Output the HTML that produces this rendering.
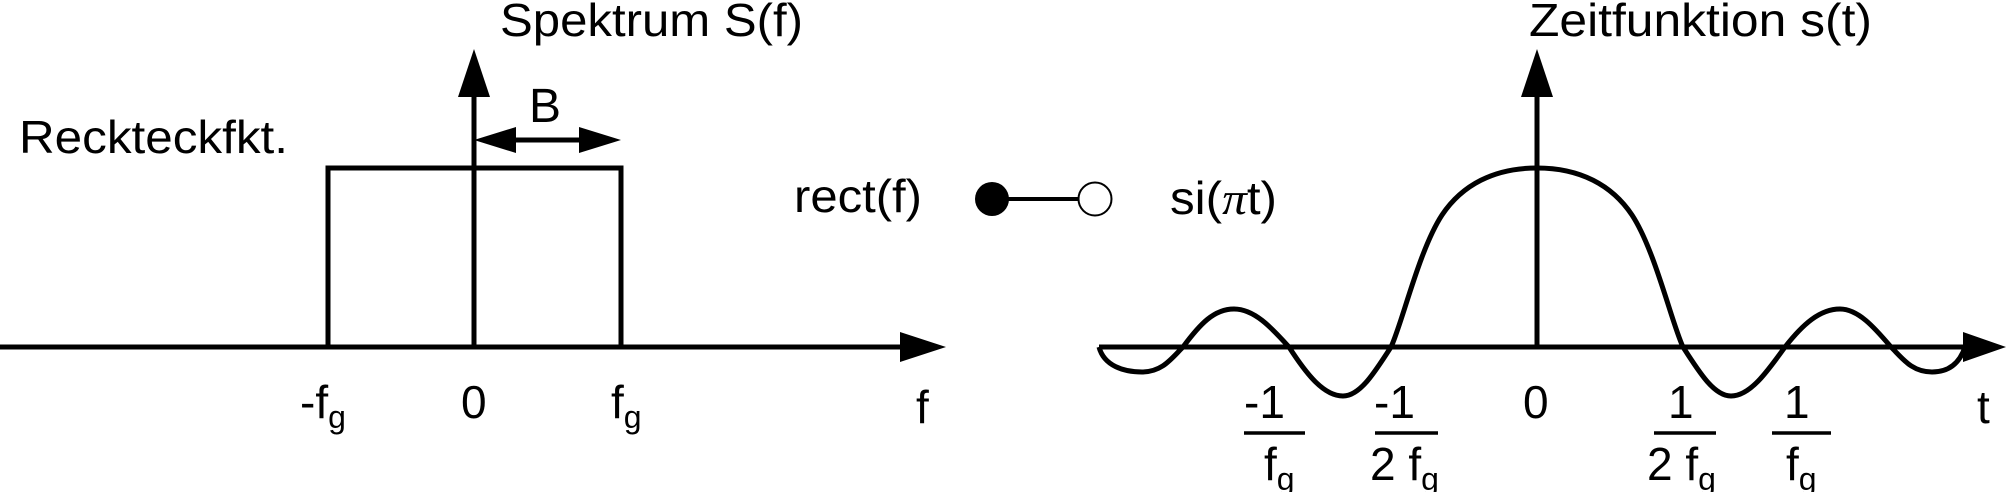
<!DOCTYPE html>
<html><head><meta charset="utf-8"><style>
html,body{margin:0;padding:0;background:#fff;}
svg{display:block;}
text{font-family:"Liberation Sans",sans-serif;fill:#000;}
</style></head><body>
<svg width="2008" height="492" viewBox="0 0 2008 492" xmlns="http://www.w3.org/2000/svg">
<g stroke="#000" stroke-width="5" fill="none">
  <line x1="0" y1="347" x2="905" y2="347"/>
  <line x1="474" y1="347" x2="474" y2="92"/>
  <polyline points="328,347 328,168 621,168 621,347"/>
  <line x1="500" y1="140" x2="595" y2="140"/>
  <line x1="992" y1="199" x2="1078" y2="199" stroke-width="4"/>
  <line x1="1099" y1="347" x2="1970" y2="347"/>
  <line x1="1537" y1="347" x2="1537" y2="92"/>
  <path stroke-width="5" d="M1099 347 C1104 366 1124 372 1142 372 C1162 372 1171 359 1183 347 C1200 324 1214 309 1234 309 C1254 309 1271 327 1289 347 C1307 375 1324 396 1343 396 C1360 396 1375 372 1391 347 C1402 324 1419 250 1442 215 C1462 185 1494 168 1537 168 C1580 168 1612 185 1632 215 C1655 250 1672 324 1683 347 C1699 372 1714 396 1731 396 C1750 396 1767 372 1785 347 C1803 324 1820 309 1840 309 C1858 309 1874 327 1891 347 C1903 359 1912 372 1932 372 C1950 372 1960 362 1965 347"/>
  <line x1="1244" y1="433" x2="1305" y2="433" stroke-width="3.5"/>
  <line x1="1375" y1="433" x2="1438" y2="433" stroke-width="3.5"/>
  <line x1="1654" y1="433" x2="1716" y2="433" stroke-width="3.5"/>
  <line x1="1772" y1="433" x2="1831" y2="433" stroke-width="3.5"/>
</g>
<g fill="#000">
  <polygon points="900,332 946,347 900,362"/>
  <polygon points="458,97 474,49 490,97"/>
  <polygon points="474,140 516,127 516,153"/>
  <polygon points="621,140 579,127 579,153"/>
  <polygon points="1963,332 2006,347 1963,362"/>
  <polygon points="1521,97 1537,49 1553,97"/>
  <circle cx="992" cy="199" r="17"/>
</g>
<circle cx="1095" cy="199" r="16.5" fill="#fff" stroke="#000" stroke-width="2"/>

<g font-size="46">
  <text x="500" y="36" textLength="303" lengthAdjust="spacingAndGlyphs">Spektrum S(f)</text>
  <text x="19" y="153" textLength="269" lengthAdjust="spacingAndGlyphs">Reckteckfkt.</text>
  <text x="529" y="122" font-size="48">B</text>
  <text x="794" y="212" textLength="128" lengthAdjust="spacingAndGlyphs">rect(f)</text>
  <text x="1170" y="214" textLength="107" lengthAdjust="spacingAndGlyphs">si(<tspan font-family="Liberation Serif" font-style="italic">π</tspan>t)</text>
  <text x="1529" y="36" textLength="343" lengthAdjust="spacingAndGlyphs">Zeitfunktion s(t)</text>
</g>
<g font-size="46">
  <text x="300" y="418">-f<tspan font-size="32" dy="10">g</tspan></text>
  <text x="461" y="418">0</text>
  <text x="611" y="418">f<tspan font-size="32" dy="10">g</tspan></text>
  <text x="916" y="423">f</text>
  <text x="1523" y="418">0</text>
  <text x="1977" y="423">t</text>
  <text x="1244" y="418">-1</text>
  <text x="1264" y="480">f<tspan font-size="32" dy="10">g</tspan></text>
  <text x="1374" y="418">-1</text>
  <text x="1370" y="480">2 f<tspan font-size="32" dy="10">g</tspan></text>
  <text x="1668" y="418">1</text>
  <text x="1647" y="480">2 f<tspan font-size="32" dy="10">g</tspan></text>
  <text x="1784" y="418">1</text>
  <text x="1786" y="480">f<tspan font-size="32" dy="10">g</tspan></text>
</g>
</svg>
</body></html>
